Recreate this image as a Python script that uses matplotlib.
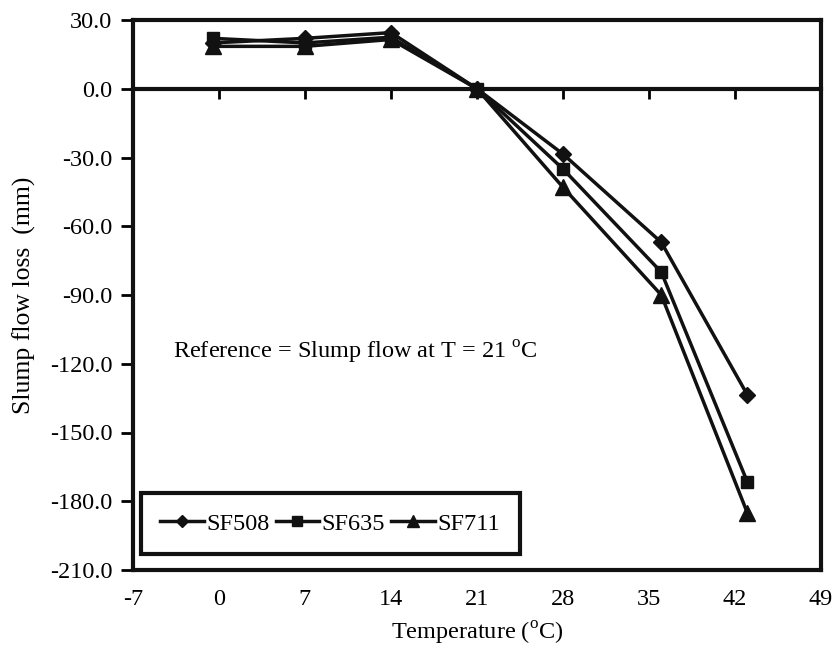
import matplotlib
matplotlib.use("Agg")
import matplotlib.pyplot as plt

temps = [-0.5, 7, 14, 21, 28, 36, 43]
sf508 = [20.0, 22.0, 24.5, 0.0, -28.5, -67.0, -133.5]
sf635 = [22.0, 20.0, 22.5, 0.0, -35.0, -80.0, -171.5]
sf711 = [18.5, 18.5, 21.5, 0.0, -43.0, -90.0, -185.0]
xticks = [-7, 0, 7, 14, 21, 28, 35, 42, 49]
yticks = [30, 0, -30, -60, -90, -120, -150, -180, -210]

plt.rcParams['font.family'] = ['Liberation Serif', 'DejaVu Serif']
plt.rcParams['axes.unicode_minus'] = False
plt.rcParams['mathtext.fontset'] = 'custom'
plt.rcParams['mathtext.rm'] = 'Liberation Serif'

FS = 17.5
fig = plt.figure(figsize=(8.39, 6.48), dpi=100)
ax = fig.add_axes([133/839, 1 - 570/648, (821-133)/839, (570-20)/648])

kw = dict(color='#111111', lw=2.5)
ax.plot(temps, sf508, marker='D', ms=8, label='SF508', **kw)
ax.plot(temps, sf635, marker='s', ms=9, label='SF635', **kw)
ax.plot(temps, sf711, marker='^', ms=11, label='SF711', **kw)

ax.set_xlim(-7, 49)
ax.set_ylim(-210, 30)
ax.set_xticks(xticks)
ax.set_xticklabels([str(v) for v in xticks])
ax.set_yticks(yticks)
ax.set_yticklabels([f"{v:.1f}" for v in yticks])
ax.tick_params(axis='x', length=0, pad=14, labelsize=FS)
ax.tick_params(axis='y', direction='out', length=9, width=2, labelsize=FS, pad=6)
for s in ax.spines.values():
    s.set_linewidth(3)
    s.set_color('#111111')

sec = ax.secondary_xaxis(0, transform=ax.transData)
sec.set_xticks(xticks[1:-1])
sec.tick_params(direction='out', length=7, width=2, labelbottom=False)
sec.spines['bottom'].set_linewidth(3)
sec.spines['bottom'].set_color('#111111')

ax.set_xlabel('Temperature ($^{\\rm o}$C)', fontsize=FS, labelpad=7)
ax.set_ylabel('Slump flow loss  (mm)', fontsize=FS + 1, labelpad=10)
ax.text(-3.75, -115, 'Reference = Slump flow at T = 21 $^{\\rm o}$C', fontsize=FS,
        va='center', ha='left')

leg = ax.legend(loc='lower left', bbox_to_anchor=(0.004, 0.02), ncol=3, fontsize=FS,
                frameon=True, fancybox=False, framealpha=1, handlelength=1.8,
                handletextpad=0.1, columnspacing=0.25, borderpad=0.8,
                borderaxespad=0.2, markerscale=0.8)
leg.get_frame().set_edgecolor('#111111')
leg.get_frame().set_linewidth(3)

fig.savefig('out.png', dpi=100)
